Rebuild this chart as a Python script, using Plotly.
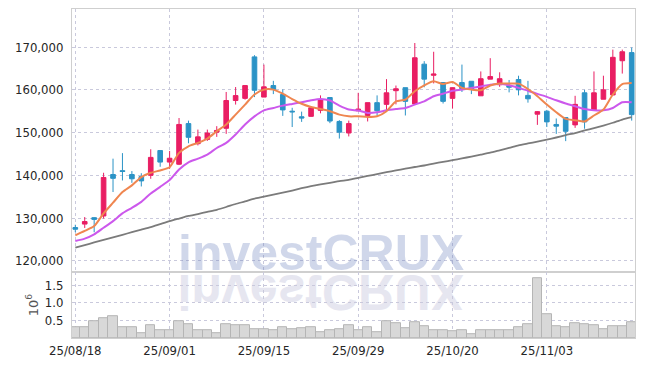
import base64
import plotly.graph_objects as go
from plotly.subplots import make_subplots

# ---- data ----
dates = [
    "25/08/18", "25/08/19", "25/08/20", "25/08/21", "25/08/22",
    "25/08/25", "25/08/26", "25/08/27", "25/08/28", "25/08/29",
    "25/09/01", "25/09/02", "25/09/03", "25/09/04", "25/09/05",
    "25/09/08", "25/09/09", "25/09/10", "25/09/11", "25/09/12",
    "25/09/15", "25/09/16", "25/09/17", "25/09/18", "25/09/19",
    "25/09/22", "25/09/23", "25/09/24", "25/09/25", "25/09/26",
    "25/09/29", "25/09/30", "25/10/01", "25/10/02", "25/10/10",
    "25/10/13", "25/10/14", "25/10/15", "25/10/16", "25/10/17",
    "25/10/20", "25/10/21", "25/10/22", "25/10/23", "25/10/24",
    "25/10/27", "25/10/28", "25/10/29", "25/10/30", "25/10/31",
    "25/11/03", "25/11/04", "25/11/05", "25/11/06", "25/11/07",
    "25/11/10", "25/11/11", "25/11/12", "25/11/13", "25/11/14",
]
opens = [127800, 128600, 130100, 130500, 140200, 141100, 140200, 139700, 140000, 145800,
         143100, 142600, 152100, 147400, 148400, 150100, 151000, 157500, 158000, 167700,
         158300, 161000, 158900, 155000, 153700, 153800, 155200, 158200, 152600, 149900,
         155100, 154000, 157000, 156600, 159800, 160500, 156700, 166000, 163400, 161700,
         158000, 161700, 162000, 158600, 162500, 161200, 161000, 162400, 158700, 154300,
         155000, 151900, 153500, 151800, 159300, 155300, 157800, 158800, 166800, 168700]
highs = [128450, 130250, 130200, 140600, 143900, 145200, 141000, 140500, 146100, 145800,
         145700, 153400, 152800, 150700, 150700, 151500, 159500, 160650, 161000, 168100,
         165900, 162100, 160100, 155800, 154900, 156200, 158700, 158200, 152900, 152800,
         159300, 157000, 158700, 162500, 161000, 160500, 170950, 166700, 168900, 161700,
         160500, 165900, 162000, 164300, 167400, 164100, 162300, 163300, 162100, 155000,
         155300, 153300, 153500, 158600, 160000, 164300, 163300, 169400, 169400, 169900]
lows = [126700, 127700, 126700, 129900, 136100, 138800, 138250, 137400, 139200, 142000,
        141500, 142400, 147500, 147000, 148050, 149000, 149700, 156550, 157700, 158300,
        158300, 159000, 153900, 151300, 152500, 153700, 154500, 152200, 148600, 149100,
        155000, 152600, 154000, 155000, 156600, 154000, 156500, 160600, 161500, 156800,
        155600, 159500, 159000, 158600, 162500, 160700, 159400, 158700, 157000, 151800,
        151300, 149700, 148000, 151100, 150900, 155300, 157800, 158800, 163800, 152800]
closes = [127400, 129200, 129700, 139500, 139300, 140900, 139200, 138700, 144200, 143100,
          144000, 151900, 148900, 149000, 149900, 150500, 157500, 158650, 161000, 159900,
          160700, 160100, 155300, 154850, 153400, 155800, 157700, 152700, 150100, 152100,
          155500, 157000, 155100, 159300, 160250, 157300, 167500, 162500, 163700, 157300,
          160500, 160300, 160100, 162600, 163100, 162600, 160600, 160000, 157900, 154900,
          152500, 151500, 150300, 156600, 152500, 159300, 160000, 167600, 168900, 154200]
volumes = [310000, 310000, 480000, 570000, 620000, 310000, 310000, 140000, 370000, 230000,
           230000, 490000, 380000, 210000, 230000, 150000, 380000, 350000, 350000, 240000,
           260000, 210000, 310000, 260000, 280000, 310000, 170000, 230000, 260000, 350000,
           230000, 310000, 170000, 480000, 430000, 280000, 450000, 340000, 230000, 230000,
           200000, 230000, 120000, 230000, 230000, 230000, 230000, 310000, 400000, 1700000,
           680000, 340000, 310000, 430000, 380000, 370000, 260000, 340000, 340000, 450000]
ma_short = [125970, 127000, 128150, 131100, 133600, 136100, 137650, 139600, 140600, 141150,
            141900, 145250, 146800, 147600, 148600, 150300, 151900, 154200, 156550, 158900,
            160050, 160050, 159100, 157850, 156750, 156000, 155500, 155000, 154200, 153800,
            153800, 153650, 153800, 155000, 157300, 157700, 159650, 161050, 162000, 161350,
            161850, 160450, 160050, 159900, 161000, 161450, 161450, 161450, 160200, 158500,
            156550, 154750, 153200, 152900, 152600, 154000, 155400, 158900, 161350, 161600]
ma_mid = [124650, 125200, 126200, 127750, 129300, 131100, 132400, 133800, 135750, 137300,
          138900, 141350, 143050, 143900, 144850, 146400, 147600, 149550, 151900, 153800,
          155200, 155750, 156300, 156700, 157100, 157550, 157850, 157500, 156300, 155400,
          155150, 154600, 154750, 155200, 155500, 155750, 156550, 157300, 158500, 159100,
          159800, 160050, 160450, 160800, 161200, 161350, 161050, 160450, 159800, 159050,
          158350, 157550, 156800, 156150, 155500, 155200, 155200, 155750, 157100, 157100]
ma_long = [123100, 123700, 124300, 124900, 125500, 126100, 126700, 127300, 127900, 128600,
           129300, 129900, 130500, 130950, 131450, 131950, 132600, 133300, 133900, 134550,
           135000, 135500, 135950, 136450, 137000, 137500, 137900, 138250, 138650, 138950,
           139400, 139850, 140300, 140750, 141150, 141550, 141950, 142300, 142750, 143150,
           143550, 143950, 144400, 144850, 145300, 145850, 146400, 147000, 147450, 147900,
           148350, 148850, 149400, 149900, 150500, 151050, 151650, 152300, 153050, 153600]
price_ticks = [120000, 130000, 140000, 150000, 160000, 170000]
vol_ticks = [500000, 1000000, 1500000]
vol_tick_labels = ["0.5", "1.0", "1.5"]
date_ticks = dates[::10]
watermark = "investCRUX"

# ---- styles ----
UP = "#e91e63"
DOWN = "#2b93c6"
GRID = "#c9c9dc"
FRAME = "#cfcfcf"
TICKFONT = dict(family="DejaVu Sans Condensed", size=13, color="#262626")

fig = make_subplots(rows=2, cols=1, shared_xaxes=True, vertical_spacing=0,
                    row_heights=[0.8, 0.2])

fig.add_trace(go.Candlestick(
    x=dates, open=opens, high=highs, low=lows, close=closes,
    increasing=dict(line=dict(color=UP, width=1), fillcolor=UP),
    decreasing=dict(line=dict(color=DOWN, width=1), fillcolor=DOWN),
    whiskerwidth=0, hoverinfo="skip", showlegend=False), row=1, col=1)

for vals, col, w in [(ma_long, "#7b7b7b", 1.8), (ma_mid, "#cc58ec", 2.0),
                     (ma_short, "#ef8650", 2.0)]:
    fig.add_trace(go.Scatter(x=dates, y=vals, mode="lines",
                             line=dict(color=col, width=w, shape="spline", smoothing=0.6),
                             hoverinfo="skip", showlegend=False), row=1, col=1)

fig.add_trace(go.Bar(x=dates, y=volumes, marker=dict(color="#d8d8d8",
                     line=dict(color="#b5b5b5", width=1)),
                     hoverinfo="skip", showlegend=False), row=2, col=1)

common_x = dict(type="category", range=[-0.35, 59.35], tickvals=date_ticks,
                showgrid=True, gridcolor=GRID, griddash="dot", gridwidth=1,
                showline=True, linecolor=FRAME, mirror=True, ticks="",
                zeroline=False, tickfont=TICKFONT, automargin=False)
fig.update_xaxes(**common_x)
fig.update_xaxes(showticklabels=False, rangeslider=dict(visible=False), row=1, col=1)
fig.update_xaxes(showticklabels=True, row=2, col=1)

fig.update_yaxes(range=[117350, 178900], tickvals=price_ticks, tickformat=",",
                 showgrid=True, gridcolor=GRID, griddash="dot", gridwidth=1,
                 showline=True, linecolor=FRAME, mirror=True, zeroline=False,
                 ticks="", ticklabelstandoff=5, tickfont=TICKFONT, automargin=False,
                 row=1, col=1)
fig.update_yaxes(range=[0, 1870000], tickvals=vol_ticks, ticktext=vol_tick_labels,
                 showgrid=True, gridcolor=GRID, griddash="dot", gridwidth=1,
                 showline=True, linecolor=FRAME, mirror=True, zeroline=False,
                 ticks="", ticklabelstandoff=5, tickfont=TICKFONT, automargin=False,
                 title=dict(text="10<sup>6</sup>", standoff=3,
                            font=dict(family="DejaVu Sans", size=13, color="#555555")),
                 row=2, col=1)

# watermark (real text) and its faint mirrored reflection
PLOT_W, PLOT_H = 563, 329
cx_px = 320.5 - 72
fig.add_annotation(text=watermark, xref="paper", yref="paper",
                   x=cx_px / PLOT_W, y=0.2, xanchor="center", yanchor="bottom",
                   yshift=-11, showarrow=False,
                   font=dict(family="Liberation Sans", size=50, weight="bold",
                             color="rgba(110,130,190,0.32)"))

svg_w, svg_h = 320, 50
svg = (f"<svg xmlns='http://www.w3.org/2000/svg' width='{svg_w}' height='{svg_h}'>"
       f"<text x='{svg_w/2}' y='-2' text-anchor='middle' transform='scale(1,-1)' "
       f"font-family='Liberation Sans' font-weight='bold' font-size='50' "
       f"fill='#e6e6f0'>{watermark}</text></svg>")
src = "data:image/svg+xml;base64," + base64.b64encode(svg.encode()).decode()
fig.add_layout_image(source=src, xref="paper", yref="paper",
                     x=(cx_px - svg_w / 2) / PLOT_W, y=(338 - 273) / PLOT_H,
                     sizex=svg_w / PLOT_W, sizey=svg_h / PLOT_H,
                     xanchor="left", yanchor="top", sizing="stretch", layer="below")

# the page body adds an 8px offset, so margins are set to land the plot
# area at x 72..635, y 9..338 in the window
fig.update_layout(width=645, height=366, margin=dict(l=64, r=18, t=1, b=36),
                  paper_bgcolor="white", plot_bgcolor="rgba(0,0,0,0)",
                  bargap=0, showlegend=False, hovermode=False)

fig.write_html("out.html")
